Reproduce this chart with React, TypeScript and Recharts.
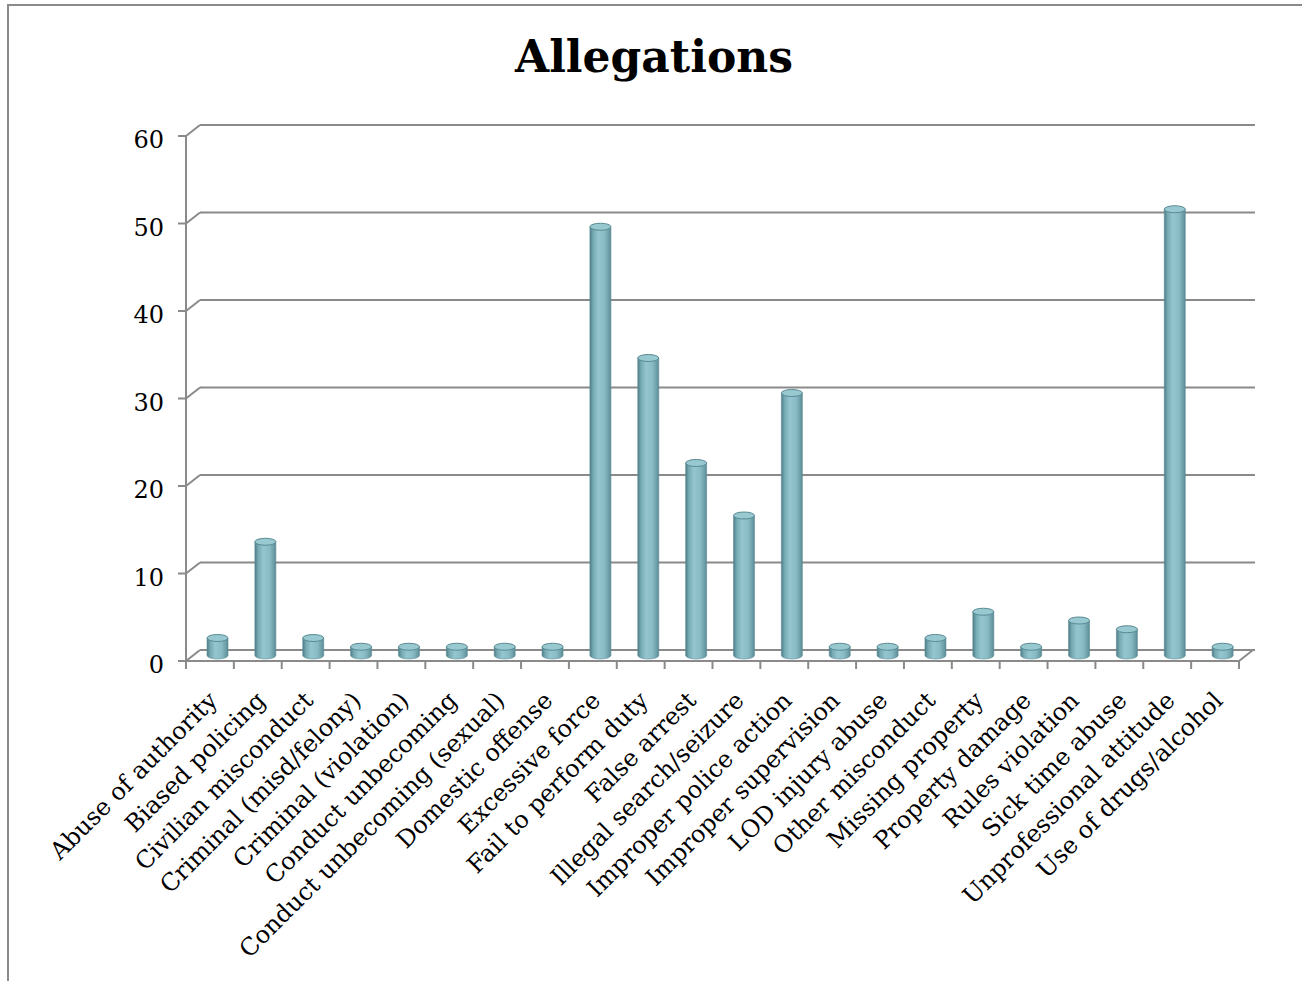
import React from 'react';
import { BarChart, Bar, XAxis, YAxis, CartesianGrid } from 'recharts';

const CATEGORIES: string[] = [
  'Abuse of authority',
  'Biased policing',
  'Civilian misconduct',
  'Criminal (misd/felony)',
  'Criminal (violation)',
  'Conduct unbecoming',
  'Conduct unbecoming (sexual)',
  'Domestic offense',
  'Excessive force',
  'Fail to perform duty',
  'False arrest',
  'Illegal search/seizure',
  'Improper police action',
  'Improper supervision',
  'LOD injury abuse',
  'Other misconduct',
  'Missing property',
  'Property damage',
  'Rules violation',
  'Sick time abuse',
  'Unprofessional attitude',
  'Use of drugs/alcohol',
];
const ALLEGATIONS: number[] = [2, 13, 2, 1, 1, 1, 1, 1, 49, 34, 22, 16, 30, 1, 1, 2, 5, 1, 4, 3, 51, 1];
const Y_TICKS: number[] = [0, 10, 20, 30, 40, 50, 60];
const TITLE = 'Allegations';

const data = CATEGORIES.map((name, i) => ({ name, value: ALLEGATIONS[i] }));

const FONT = '"DejaVu Serif", "Liberation Serif", serif';
const LINE = '#8a8a8a';
const DEPTH_X = 14;
const DEPTH_Y = 11;
const TICK_FONT = 24;

const Cylinder = (props: any) => {
  const { x, y, width, height } = props;
  if (x == null || y == null) return null;
  const dx = DEPTH_X / 2 + 1;
  const dy = -DEPTH_Y / 2;
  const left = x + dx;
  const top = y + dy;
  const bottom = y + height + dy;
  const rx = width / 2;
  const ry = 3.5;
  const d = `M${left},${top} L${left},${bottom} A${rx},${ry} 0 0 0 ${left + width},${bottom} L${left + width},${top} Z`;
  return (
    <g>
      <path d={d} fill="url(#cylGrad)" stroke="#5e8e97" strokeWidth={0.6} />
      <ellipse cx={left + rx} cy={top} rx={rx} ry={ry} fill="#98c8d0" stroke="#5a8a93" strokeWidth={1} />
    </g>
  );
};

const gridLine = (props: any) => {
  const { x1, y1, x2, y2, index } = props;
  return (
    <g key={`grid-${index}-${y1}`}>
      <line x1={x1} y1={y1} x2={x1 + DEPTH_X} y2={y1 - DEPTH_Y} stroke={LINE} strokeWidth={2} />
      <line x1={x1 + DEPTH_X} y1={y1 - DEPTH_Y} x2={x2 + DEPTH_X + 2} y2={y2 - DEPTH_Y} stroke={LINE} strokeWidth={2} />
    </g>
  );
};

const YTick = (props: any) => {
  const { x, y, payload } = props;
  return (
    <text x={x} y={y + 12} textAnchor="end" fontFamily={FONT} fontSize={TICK_FONT} fill="#000">
      {payload.value}
    </text>
  );
};

const XTick = (props: any) => {
  const { x, y, payload, index } = props;
  const half = payload && typeof payload.offset === 'number' && payload.offset > 0 ? payload.offset : 23.9;
  const last = index === CATEGORIES.length - 1;
  const ax = x + 9;
  const ay = y + 41;
  return (
    <g>
      <line x1={x - half} y1={y} x2={x - half} y2={y + 8} stroke={LINE} strokeWidth={2} />
      {last && (
        <>
          <line x1={x + half} y1={y} x2={x + half} y2={y + 8} stroke={LINE} strokeWidth={2} />
          <line x1={x + half} y1={y} x2={x + half + DEPTH_X} y2={y - DEPTH_Y} stroke={LINE} strokeWidth={2} />
        </>
      )}
      <text
        x={ax}
        y={ay}
        textAnchor="end"
        transform={`rotate(-45 ${ax} ${ay})`}
        fontFamily={FONT}
        fontSize={TICK_FONT}
        fill="#000"
      >
        {payload.value}
      </text>
    </g>
  );
};

export default function App() {
  return (
    <div style={{ position: 'absolute', left: 0, top: 0, width: 1302, height: 981, background: '#fff', overflow: 'hidden' }}>
      <div
        style={{
          position: 'absolute',
          left: 7,
          top: 4,
          width: 1302 - 7,
          height: 981 - 4,
          borderTop: `2px solid ${LINE}`,
          borderLeft: `2px solid ${LINE}`,
          boxSizing: 'border-box',
        }}
      />
      <div
        style={{
          position: 'absolute',
          left: 0,
          top: 35,
          width: 1308,
          textAlign: 'center',
          fontFamily: FONT,
          fontWeight: 'bold',
          fontSize: 44,
          lineHeight: '44px',
          color: '#000',
        }}
      >
        {TITLE}
      </div>
      <div style={{ position: 'absolute', left: 0, top: 0 }}>
        <BarChart
          width={1302}
          height={981}
          data={data}
          margin={{ top: 136, right: 63, left: 126, bottom: 260 }}
          barSize={21}
        >
          <defs>
            <linearGradient id="cylGrad" x1="0" y1="0" x2="1" y2="0">
              <stop offset="0%" stopColor="#4e7c85" />
              <stop offset="15%" stopColor="#74a9b3" />
              <stop offset="40%" stopColor="#95c6cf" />
              <stop offset="70%" stopColor="#88bbc5" />
              <stop offset="90%" stopColor="#6c9ea7" />
              <stop offset="100%" stopColor="#5a8992" />
            </linearGradient>
          </defs>
          <CartesianGrid vertical={false} horizontal={gridLine} />
          <XAxis
            dataKey="name"
            interval={0}
            height={60}
            tickSize={0}
            tickMargin={0}
            tickLine={false}
            axisLine={{ stroke: LINE, strokeWidth: 2 }}
            tick={<XTick />}
          />
          <YAxis
            domain={[0, 60]}
            ticks={Y_TICKS}
            width={60}
            tickSize={8}
            tickMargin={14}
            axisLine={{ stroke: LINE, strokeWidth: 2 }}
            tickLine={{ stroke: LINE, strokeWidth: 2 }}
            tick={<YTick />}
          />
          <Bar dataKey="value" shape={<Cylinder />} isAnimationActive={false} />
        </BarChart>
      </div>
    </div>
  );
}
